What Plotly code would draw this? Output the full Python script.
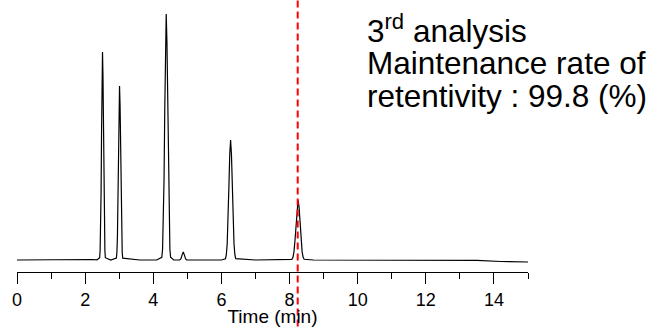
import plotly.graph_objects as go

# Chromatogram trace (time in min, signal in arbitrary units)
time_min = [
    0.0, 1.0, 1.8, 2.2, 2.35,
    2.426, 2.440, 2.454, 2.468, 2.482, 2.496, 2.510, 2.524, 2.538, 2.552, 2.566, 2.580, 2.594,
    2.75,
    2.917, 2.933, 2.948, 2.964, 2.979, 2.995, 3.010, 3.026, 3.041, 3.057, 3.072, 3.088, 3.103,
    3.6, 4.1,
    4.251, 4.273, 4.294, 4.316, 4.337, 4.359, 4.380, 4.402, 4.423, 4.445, 4.466, 4.488, 4.509,
    4.6,
    4.775, 4.81, 4.845, 4.88, 4.915, 4.95, 4.985,
    5.5, 6.0,
    6.12, 6.145, 6.17, 6.195, 6.22, 6.245, 6.27, 6.295, 6.32, 6.345, 6.37, 6.395, 6.42,
    7.0, 7.9,
    8.07, 8.10, 8.13, 8.16, 8.19, 8.22, 8.25, 8.28, 8.31, 8.34, 8.37, 8.40, 8.43,
    8.7, 10.0, 12.0, 13.5, 14.2, 15.0,
]
signal = [
    0.0, 0.3, 1.0, 0.5, 0.2,
    2.3, 9.2, 28.1, 67.6, 126.3, 183.5, 208.0, 183.5, 126.3, 67.6, 28.1, 9.2, 2.3,
    0.0,
    1.9, 7.7, 23.5, 56.6, 105.6, 153.5, 174.0, 153.5, 105.6, 56.6, 23.5, 7.7, 1.9,
    0.0, 0.0,
    2.7, 10.8, 33.2, 80.0, 149.3, 217.0, 246.0, 217.0, 149.3, 80.0, 33.2, 10.8, 2.7,
    0.0,
    0.1, 1.1, 4.9, 8.0, 4.9, 1.1, 0.1,
    0.0, 0.0,
    1.3, 5.3, 16.2, 39.0, 72.8, 105.8, 120.0, 105.8, 72.8, 39.0, 16.2, 5.3, 1.3,
    0.0, 0.0,
    0.7, 2.6, 8.1, 19.5, 36.4, 52.9, 60.0, 52.9, 36.4, 19.5, 8.1, 2.6, 0.7,
    0.0, 0.0, 0.0, -0.3, -1.5, -2.0,
]

marker_time = 8.24
x_ticks = [0, 2, 4, 6, 8, 10, 12, 14]
x_label = "Time (min)"
note_lines = ["3<sup>rd</sup> analysis", "Maintenance rate of", "retentivity : 99.8 (%)"]
note_y = [0.927, 0.798, 0.672]

FONT = "Liberation Sans, Arial, sans-serif"

fig = go.Figure()
fig.add_trace(go.Scatter(x=time_min, y=signal, mode="lines",
                         line=dict(color="black", width=1.2), hoverinfo="skip",
                         showlegend=False))

fig.add_shape(type="line", xref="x", yref="paper", x0=marker_time, x1=marker_time,
              y0=-0.25, y1=1.1, line=dict(color="#ff0000", width=2, dash="7px,4px"))

for txt, yy in zip(note_lines, note_y):
    fig.add_annotation(text=txt, xref="paper", yref="paper", x=0.6816, y=yy,
                       xanchor="left", yanchor="middle", showarrow=False,
                       font=dict(family=FONT, size=31.5, color="black"))

fig.update_layout(
    width=653, height=327,
    margin=dict(l=17, r=125, t=10, b=55),
    paper_bgcolor="white", plot_bgcolor="white",
    font=dict(family=FONT, color="black"),
    xaxis=dict(range=[0, 15], tickvals=x_ticks, ticks="outside", ticklen=11,
               tickcolor="black", tickwidth=1, showline=True, linecolor="black",
               linewidth=1, showgrid=False, zeroline=False, automargin=False,
               tickfont=dict(family=FONT, size=18, color="black"),
               minor=dict(dtick=1, tick0=0, ticks="outside", ticklen=6,
                          tickcolor="black", tickwidth=1, showgrid=False),
               title=dict(text=x_label, font=dict(family=FONT, size=19, color="black"),
                          standoff=4)),
    yaxis=dict(range=[-12, 250], visible=False, showgrid=False, zeroline=False,
               automargin=False),
)

fig.write_html("out.html")
